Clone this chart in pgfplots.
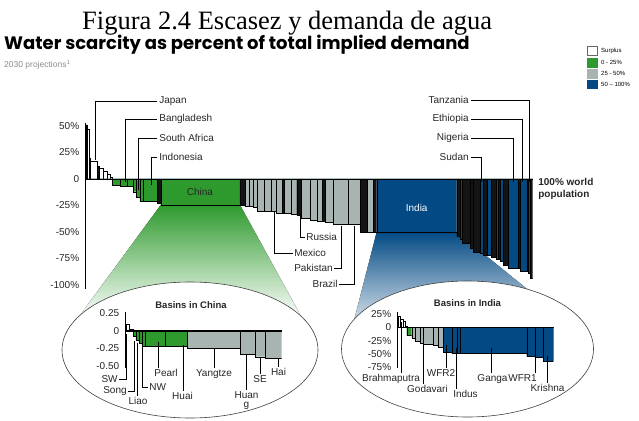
\documentclass[border=0pt]{standalone}
\usepackage{fontspec}
\setmainfont{Liberation Sans}
\newfontfamily\timesf{Liberation Serif}
\newfontfamily\popf{Poppins}
\usepackage{pgfplots}
\usepackage{pgfplotstable}
\pgfplotsset{compat=1.18}
\definecolor{cgreen}{HTML}{2E9A2E}
\definecolor{cgray}{HTML}{A8B4B1}
\definecolor{cblue}{HTML}{034A84}
\definecolor{cblack}{HTML}{141414}

% columns: x start of interval, then value in the colour column (w surplus, g 0-25, s 25-50, b 50-100, k dark)
\pgfplotstableread{
x w g s b k
0 0 0 0 0 51
0.4 47 0 0 0 0
0.8 0 0 0 0 20
1.0 17 0 0 0 0
2.6 0 0 0 0 12
3.0 10 0 0 0 0
3.8 7 0 0 0 0
4.7 5 0 0 0 0
5.4 2 0 0 0 0
6.0 0 -6 0 0 0
7.7 0 -6.5 0 0 0
9.2 0 -7 0 0 0
10.6 0 -12 0 0 0
11.4 0 -17 0 0 0
12.1 0 -21 0 0 0
12.9 0 -21 0 0 0
16.0 0 0 0 0 -23
16.8 0 -24.5 0 0 0
34.5 0 0 0 0 -24.5
35.6 0 0 -26 0 0
36.6 0 0 -26 0 0
37.5 0 0 -27 0 0
38.3 0 0 -30 0 0
40.0 0 0 -30 0 0
41.4 0 0 -30 0 0
42.7 0 0 -32 0 0
44.0 0 0 0 0 -32
44.5 0 0 -32 0 0
46.0 0 0 -33 0 0
47.2 0 0 0 0 -34
48.3 0 0 -37 0 0
50.2 0 0 -39 0 0
51.7 0 0 -40 0 0
53.0 0 0 0 0 -40
53.6 0 0 -41 0 0
55.4 0 0 -43 0 0
58.7 0 0 -43 0 0
61.4 0 0 0 0 -50
62.9 0 0 -50 0 0
64.3 0 0 0 0 -50
65.1 0 0 0 -50.5 0
83.0 0 0 0 0 -54
83.7 0 0 0 -57 0
84.3 0 0 0 0 -61
86.0 0 0 0 0 -65
86.7 0 0 0 0 -69
88.2 0 0 0 -70 0
89.0 0 0 0 0 -72
89.8 0 0 0 -72 0
90.8 0 0 0 0 -74
91.8 0 0 0 -76 0
92.3 0 0 0 0 -76
92.7 0 0 0 -78 0
93.4 0 0 0 0 -81
94.5 0 0 0 -84 0
96.8 0 0 0 0 -84
97.2 0 0 0 -87 0
98.7 0 0 0 0 -87
99.0 0 0 0 -89 0
99.4 0 0 0 0 -94
100 0 0 0 0 0
}\maindata

\pgfplotstableread{
x w g s b k
0 0.095 0 0 0 0
2.3 0.02 0 0 0 0
4.9 0 -0.08 0 0 0
6.6 0 -0.13 0 0 0
8.7 0 -0.18 0 0 0
10.3 0 -0.22 0 0 0
12.4 0 -0.22 0 0 0
25.6 0 -0.22 0 0 0
39.7 0 0 -0.25 0 0
73.3 0 0 -0.33 0 0
82.9 0 0 -0.37 0 0
89.3 0 0 -0.39 0 0
100 0 0 0 0 0
}\chinadata

\pgfplotstableread{
x w g s b k
0 21 0 0 0 0
1.9 16 0 0 0 0
3.2 12 0 0 0 0
4.7 3 0 0 0 0
5.8 0 -15 0 0 0
9.0 0 0 -20 0 0
11.1 0 0 -26 0 0
14.3 0 0 -29 0 0
16.5 0 0 -31 0 0
22.9 0 0 -34 0 0
26.1 0 0 -38 0 0
29.3 0 0 0 -47 0
34.7 0 0 0 -49 0
37.9 0 0 0 -49 0
40.0 0 0 0 -49 0
82.9 0 0 0 -55 0
88.2 0 0 0 -57 0
93.6 0 0 0 -64 0
100 0 0 0 0 0
}\indiadata

\pgfplotsset{
  barsax/.style={scale only axis, anchor=south west, axis on top,
    axis x line=middle, axis y line=left,
    axis line style={-, line width=0.9pt, black},
    xtick=\empty, major tick length=0pt, xmin=0, xmax=100,
    every axis plot/.append style={ybar interval, draw=black, line width=0.35pt},
    yticklabel style={font=\fontsize{10}{12}\selectfont, xshift=-3pt, text=black!85}},
}

\begin{document}
\begin{tikzpicture}[x=1pt,y=1pt]
\useasboundingbox (0,0) rectangle (639,-420);

% titles
\node[anchor=base west, inner sep=0, font=\timesf\fontsize{26.5}{30}\selectfont] at (82,-29.5) {Figura 2.4 Escasez y demanda de agua};
\node[anchor=base west, inner sep=0, font=\popf\bfseries\fontsize{18}{20}\selectfont] at (4,-49) {Water scarcity as percent of total implied demand};
\node[anchor=base west, inner sep=0, font=\fontsize{8.5}{10}\selectfont, text=black!45] at (4,-67) {2030 projections\textsuperscript{1}};

% legend
\begin{scope}[font=\fontsize{6}{7}\selectfont]
\draw[fill=white, draw=black!60] (587,-46) rectangle (597,-55);
\draw[fill=cgreen, draw=cgreen] (587,-58.5) rectangle (597,-67);
\draw[fill=cgray, draw=cgray] (587,-69.5) rectangle (597,-78);
\draw[fill=cblue, draw=cblue] (587,-80) rectangle (597,-88.5);
\node[anchor=west, inner sep=0] at (601,-50.5) {Surplus};
\node[anchor=west, inner sep=0] at (601,-62.7) {0 - 25\%};
\node[anchor=west, inner sep=0] at (601,-73.5) {25 - 50\%};
\node[anchor=west, inner sep=0] at (601,-84.2) {50 -- 100\%};
\end{scope}

% zoom cones
\fill[top color=cgreen, bottom color=white] (160.7,-205) -- (240,-205) -- (302,-318) -- (78,-318) -- cycle;
\fill[top color=cblue, bottom color=white] (376.7,-232) -- (456.7,-232) -- (590,-340) -- (349,-340) -- cycle;

% ellipses
\draw[fill=white, line width=0.6pt, draw=black!75] (190,-350) ellipse [x radius=128, y radius=68];
\draw[fill=white, line width=0.6pt, draw=black!75] (467.5,-349) ellipse [x radius=126, y radius=68];

% main chart
\begin{axis}[barsax, at={(85.7pt,-289.2pt)}, width=447pt, height=166.4pt,
  ymin=-104, ymax=53, ytick={-100,-75,-50,-25,0,25,50},
  yticklabels={-100\%,-75\%,-50\%,-25\%,0,25\%,50\%}]
\addplot[fill=white] table[x=x,y=w]{\maindata};
\addplot[fill=cgreen] table[x=x,y=g]{\maindata};
\addplot[fill=cgray] table[x=x,y=s]{\maindata};
\addplot[fill=cblue] table[x=x,y=b]{\maindata};
\addplot[fill=cblack] table[x=x,y=k]{\maindata};
\end{axis}

% China inset
\begin{axis}[barsax, at={(125.7pt,-368pt)}, width=156pt, height=56.3pt,
  ymin=-0.53, ymax=0.27, ytick={-0.5,-0.25,0,0.25},
  yticklabels={-0.50,-0.25,0,0.25}]
\addplot[fill=white] table[x=x,y=w]{\chinadata};
\addplot[fill=cgreen] table[x=x,y=g]{\chinadata};
\addplot[fill=cgray] table[x=x,y=s]{\chinadata};
\addplot[fill=cblue] table[x=x,y=b]{\chinadata};
\addplot[fill=cblack] table[x=x,y=k]{\chinadata};
\end{axis}

% India inset
\begin{axis}[barsax, at={(397.7pt,-368pt)}, width=155.6pt, height=56.3pt,
  ymin=-76.7, ymax=30, ytick={-75,-50,-25,0,25},
  yticklabels={-75\%,-50\%,-25\%,0,25\%}]
\addplot[fill=white] table[x=x,y=w]{\indiadata};
\addplot[fill=cgreen] table[x=x,y=g]{\indiadata};
\addplot[fill=cgray] table[x=x,y=s]{\indiadata};
\addplot[fill=cblue] table[x=x,y=b]{\indiadata};
\addplot[fill=cblack] table[x=x,y=k]{\indiadata};
\end{axis}

% labels main chart
\begin{scope}[font=\fontsize{10}{12}\selectfont, every node/.style={inner sep=0, text=black!85}, line width=0.7pt]
\draw (157,-101) -| (95,-160);
\node[anchor=west] at (159,-101) {Japan};
\draw (157,-119.3) -| (125.7,-182);
\node[anchor=west] at (159,-119.3) {Bangladesh};
\draw (157,-138) -| (138.3,-190);
\node[anchor=west] at (159,-138) {South Africa};
\draw (157,-157) -| (151,-185);
\node[anchor=west] at (159,-157) {Indonesia};
\node at (200,-192) {China};
\node[text=white] at (416.7,-208) {India};
\draw (300,-214) |- (305,-237);
\node[anchor=west] at (306,-237) {Russia};
\draw (274.5,-211) |- (293,-253);
\node[anchor=west] at (294,-253) {Mexico};
\draw (334,-268) -| (341.5,-226);
\node[anchor=east] at (333,-268) {Pakistan};
\draw (339,-284) -| (354,-226);
\node[anchor=east] at (338,-284) {Brazil};
\draw (471,-157) -| (481,-182);
\node[anchor=east] at (469,-157) {Sudan};
\draw (471,-138) -| (513.3,-182);
\node[anchor=east] at (469,-138) {Nigeria};
\draw (471,-119) -| (522.7,-182);
\node[anchor=east] at (469,-119) {Ethiopia};
\draw (471,-100) -| (529.3,-182);
\node[anchor=east] at (469,-100) {Tanzania};
\node[anchor=north west, align=left, font=\bfseries\fontsize{10}{12.3}\selectfont] at (538,-178) {100\% world\\population};

% inset titles
\node[font=\bfseries\fontsize{9.5}{11}\selectfont] at (191,-305) {Basins in China};
\node[font=\bfseries\fontsize{9.5}{11}\selectfont] at (467.5,-303) {Basins in India};

% China inset labels
\draw (119,-379) -| (126.7,-334);
\node[anchor=east] at (118,-379) {SW};
\draw (128,-391) -| (134,-341);
\node[anchor=east] at (127,-391) {Song};
\draw (137.3,-396) -- (137.3,-343);
\node[anchor=north] at (138,-397) {Liao};
\draw (148,-387) -| (142.7,-346);
\node[anchor=west] at (149,-387) {NW};
\draw (158.3,-368) -- (158.3,-342);
\node[anchor=north] at (166,-369) {Pearl};
\draw (183.3,-391) -- (183.3,-345);
\node[anchor=north] at (182.5,-392) {Huai};
\draw (214.3,-368) -- (214.3,-349);
\node[anchor=north] at (214,-369) {Yangtze};
\draw (246.7,-390) -- (246.7,-355);
\node[anchor=north] at (246.5,-391) {Huan};
\node[anchor=north] at (246.5,-402) {g};
\draw (260,-374) -- (260,-358);
\node[anchor=north] at (260,-375) {SE};
\draw (278.3,-367) -- (278.3,-359);
\node[anchor=north] at (278.5,-368) {Hai};

% India inset labels
\draw (401.5,-373) -- (401.5,-322);
\node[anchor=north] at (391,-374) {Brahmaputra};
\draw (423.3,-384) -- (423.3,-343);
\node[anchor=north] at (427.5,-385) {Godavari};
\draw (446.7,-368) -- (446.7,-345);
\node[anchor=north] at (441,-369) {WFR2};
\draw (456.7,-389) -- (456.7,-348);
\node[anchor=north] at (465.5,-390) {Indus};
\draw (491.7,-373) -- (491.7,-348);
\node[anchor=north] at (492.5,-374) {Ganga};
\draw (535,-373) -- (535,-352);
\node[anchor=north] at (522.5,-374) {WFR1};
\draw (547.3,-383) -- (547.3,-356);
\node[anchor=north] at (547.5,-384) {Krishna};
\end{scope}
\end{tikzpicture}
\end{document}
